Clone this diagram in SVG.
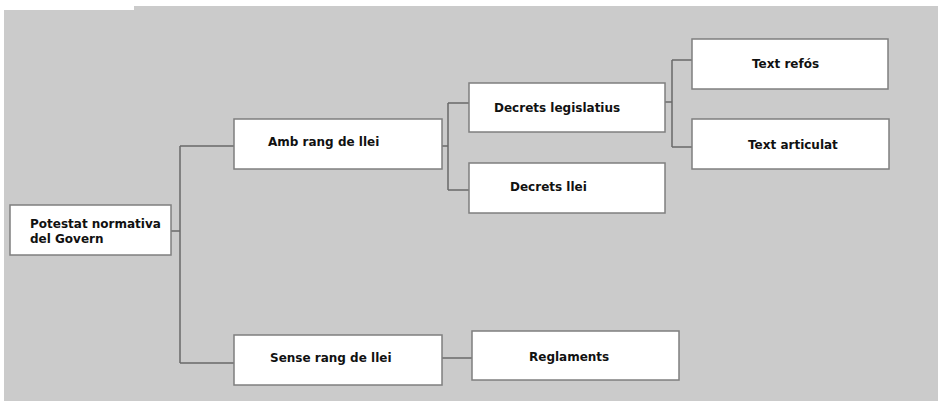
<svg xmlns="http://www.w3.org/2000/svg" width="938" height="401" viewBox="0 0 938 401">
  <style>
    .box rect { fill: #ffffff; stroke: #7f7f7f; stroke-width: 1.5; }
    .box text { font-family: "DejaVu Sans", Verdana, sans-serif; font-weight: bold; font-size: 12px; fill: #111111; }
    #connectors path { fill: none; stroke: #6a6a6a; stroke-width: 1.5; }
  </style>
  <!-- canvas -->
  <rect x="0" y="0" width="938" height="401" fill="#ffffff"/>
  <path d="M4 10 H134 V6 H938 V401 H4 Z" fill="#cbcbcb"/>

  <g id="connectors">
    <path d="M171 231 H180 M180 146 V363 M180 146 H234 M180 363 H234"/>
    <path d="M442 146 H448 M448 103 V190 M448 103 H469 M448 190 H469"/>
    <path d="M665 102 H672 M672 60 V147 M672 60 H692 M672 147 H692"/>
    <path d="M442 358 H472"/>
  </g>

  <g id="potestat" class="box">
    <rect x="10" y="205" width="161" height="50"/>
    <text x="30" y="228">Potestat normativa</text>
    <text x="30" y="243">del Govern</text>
  </g>
  <g id="amb-rang" class="box">
    <rect x="234" y="119" width="208" height="50"/>
    <text x="268" y="146">Amb rang de llei</text>
  </g>
  <g id="sense-rang" class="box">
    <rect x="234" y="335" width="208" height="50"/>
    <text x="270" y="362">Sense rang de llei</text>
  </g>
  <g id="decrets-legislatius" class="box">
    <rect x="469" y="83" width="196" height="49"/>
    <text x="494" y="112">Decrets legislatius</text>
  </g>
  <g id="decrets-llei" class="box">
    <rect x="469" y="163" width="196" height="50"/>
    <text x="510" y="191">Decrets llei</text>
  </g>
  <g id="text-refos" class="box">
    <rect x="692" y="39" width="196" height="50"/>
    <text x="752" y="68">Text refós</text>
  </g>
  <g id="text-articulat" class="box">
    <rect x="692" y="119" width="197" height="50"/>
    <text x="748" y="149">Text articulat</text>
  </g>
  <g id="reglaments" class="box">
    <rect x="472" y="331" width="207" height="49"/>
    <text x="529" y="361">Reglaments</text>
  </g>
</svg>
